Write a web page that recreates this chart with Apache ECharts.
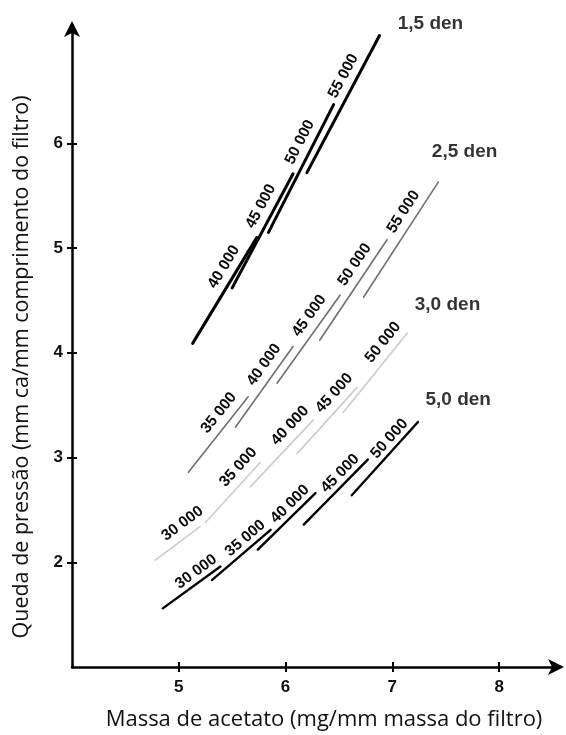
<!DOCTYPE html>
<html>
<head>
<meta charset="utf-8">
<script src="https://cdn.jsdelivr.net/npm/echarts@6/dist/echarts.min.js"></script>
<style>
html,body{margin:0;padding:0;background:#fff;}
#chart{width:566px;height:735px;}
</style>
</head>
<body>
<div id="chart"></div>
<script>
// ---- data (x = massa de acetato, y = queda de pressão) ----
// each segment: [x1, y1, x2, y2]
const den15 = [
  [5.13, 4.09, 5.73, 5.10],
  [5.50, 4.62, 6.07, 5.71],
  [5.84, 5.15, 6.45, 6.37],
  [6.20, 5.72, 6.88, 7.03]
];
const den15Labels = ['40 000', '45 000', '50 000', '55 000'];

const den25 = [
  [5.09, 2.86, 5.65, 3.58],
  [5.53, 3.29, 6.07, 4.06],
  [5.92, 3.71, 6.51, 4.55],
  [6.32, 4.12, 6.95, 5.08],
  [6.73, 4.53, 7.43, 5.63]
];
const den25Labels = ['35 000', '40 000', '45 000', '50 000', '55 000'];

const den30 = [
  [4.78, 2.02, 5.20, 2.34],
  [5.25, 2.38, 5.76, 2.95],
  [5.67, 2.72, 6.26, 3.36],
  [6.11, 3.04, 6.67, 3.67],
  [6.54, 3.43, 7.14, 4.19]
];
const den30Labels = ['30 000', '35 000', '40 000', '45 000', '50 000'];

const den50 = [
  [4.85, 1.56, 5.39, 1.96],
  [5.31, 1.83, 5.86, 2.31],
  [5.74, 2.12, 6.28, 2.66],
  [6.17, 2.36, 6.77, 2.98],
  [6.62, 2.64, 7.24, 3.34]
];
const den50Labels = ['30 000', '35 000', '40 000', '45 000', '50 000'];

const groupNames = ['1,5 den', '2,5 den', '3,0 den', '5,0 den'];
const groupNameAt = [[7.05, 7.14], [7.37, 5.92], [7.21, 4.46], [7.31, 3.55]];

const xTicks = [5, 6, 7, 8];
const yTicks = [2, 3, 4, 5, 6];
const xTitle = 'Massa de acetato (mg/mm massa do filtro)';
const yTitle = 'Queda de pressão (mm ca/mm comprimento do filtro)';

// ---- chart ----
const chart = echarts.init(document.getElementById('chart'), null, {renderer: 'canvas'});
const GRID = {left: 72, right: 6, top: 25, bottom: 68};
const LABEL_FONT = 'bold 15.5px "Liberation Sans Narrow", "Liberation Sans", Arial, sans-serif';

function segSeries(segs, labels, color, width, perp, t) {
  return {
    type: 'custom',
    coordinateSystem: 'cartesian2d',
    clip: false,
    silent: true,
    data: segs.map((s, i) => [s[0], s[1], s[2], s[3], i]),
    encode: {x: [0, 2], y: [1, 3]},
    renderItem: function (params, api) {
      const p1 = api.coord([api.value(0), api.value(1)]);
      const p2 = api.coord([api.value(2), api.value(3)]);
      const dx = p2[0] - p1[0], dy = p2[1] - p1[1];
      const len = Math.hypot(dx, dy);
      const ux = dx / len, uy = dy / len;
      const nx = uy, ny = -ux;
      const cx = p1[0] + dx * t + nx * perp;
      const cy = p1[1] + dy * t + ny * perp;
      const ang = Math.atan2(-dy, dx);
      return {
        type: 'group',
        children: [
          {type: 'line', shape: {x1: p1[0], y1: p1[1], x2: p2[0], y2: p2[1]},
           style: {stroke: color, lineWidth: width, lineCap: 'round'}},
          {type: 'text', x: cx, y: cy, rotation: ang,
           style: {text: labels[api.value(4)], fill: '#0a0a0a', font: LABEL_FONT,
                   align: 'center', verticalAlign: 'middle'}}
        ]
      };
    }
  };
}

const axisLineStyle = {color: '#000', width: 2.5};
const tickFont = {color: '#111', fontFamily: '"Liberation Sans", Arial, sans-serif', fontWeight: 'bold', fontSize: 17};

chart.setOption({
  animation: false,
  backgroundColor: '#fff',
  grid: GRID,
  xAxis: [{
    type: 'value', min: 4, max: 8.57, interval: 1,
    splitLine: {show: false},
    axisLine: {show: true, lineStyle: axisLineStyle, symbol: ['none', 'arrow'], symbolSize: [12, 16], symbolOffset: [0, 4]},
    axisTick: {show: true, customValues: xTicks, length: 5, lineStyle: {color: '#000', width: 2}},
    axisLabel: Object.assign({customValues: xTicks, margin: 12}, tickFont)
  }, {
    type: 'value', min: 4, max: 8.57, interval: 1, position: 'bottom',
    splitLine: {show: false}, axisLine: {show: false},
    axisTick: {show: true, inside: true, customValues: xTicks, length: 5, lineStyle: {color: '#000', width: 2}},
    axisLabel: {show: false}
  }],
  yAxis: [{
    type: 'value', min: 1, max: 7.13, interval: 1,
    splitLine: {show: false},
    axisLine: {show: true, lineStyle: axisLineStyle, symbol: ['none', 'arrow'], symbolSize: [12, 16], symbolOffset: [0, 4]},
    axisTick: {show: true, customValues: yTicks, length: 5, lineStyle: {color: '#000', width: 2}},
    axisLabel: Object.assign({customValues: yTicks, margin: 9}, tickFont)
  }, {
    type: 'value', min: 1, max: 7.13, interval: 1, position: 'left',
    splitLine: {show: false}, axisLine: {show: false},
    axisTick: {show: true, inside: true, customValues: yTicks, length: 5, lineStyle: {color: '#000', width: 2}},
    axisLabel: {show: false}
  }],
  graphic: [
    {type: 'text', x: 324, y: 720, silent: true,
     style: {text: xTitle, fill: '#111', font: '22px "Open Sans", sans-serif', align: 'center', verticalAlign: 'middle'}},
    {type: 'text', x: 22, y: 367, rotation: Math.PI / 2, silent: true,
     style: {text: yTitle, fill: '#111', font: '21.5px "Open Sans", sans-serif', align: 'center', verticalAlign: 'middle'}}
  ],
  series: [
    segSeries(den15, den15Labels, '#000', 3, 13, 0.66),
    segSeries(den25, den25Labels, '#707070', 1.6, 13, 0.68),
    segSeries(den30, den30Labels, '#cccccc', 1.6, 13, 0.78),
    segSeries(den50, den50Labels, '#000', 2.4, 10, 0.68),
    {
      type: 'scatter', silent: true, clip: false, symbolSize: 0,
      data: groupNames.map((n, i) => [groupNameAt[i][0], groupNameAt[i][1], n]),
      label: {show: true, position: 'right', distance: 0, formatter: p => p.value[2],
        color: '#000', fontFamily: '"Liberation Sans", Arial, sans-serif', fontWeight: 'bold', fontSize: 19}
    }
  ]
});
</script>
</body>
</html>
